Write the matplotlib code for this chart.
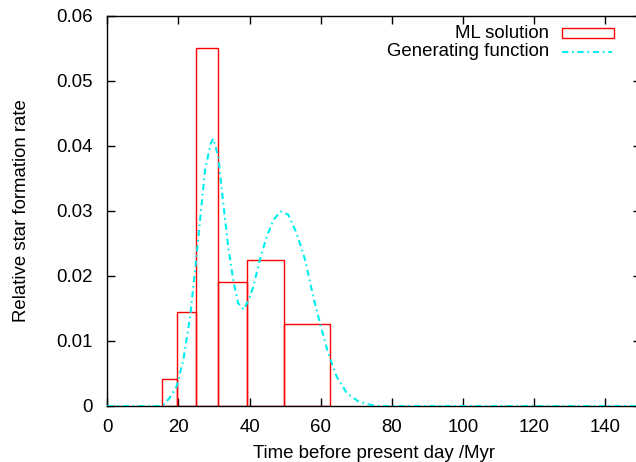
import numpy as np
import matplotlib
matplotlib.use("Agg")
import matplotlib.pyplot as plt
from matplotlib.patches import Rectangle
from matplotlib.lines import Line2D

# ML solution histogram (bin edges in Myr, heights)
bin_edges = [15.5, 19.5, 24.9, 31.2, 39.4, 49.7, 62.7]
ml_heights = [0.0042, 0.0144, 0.0550, 0.0190, 0.0224, 0.0126]

# Generating function
gen_x = [0, 10, 15.0, 15.8, 17.5, 19.5, 21.4, 23.3, 24.7, 26.1, 27.5, 29.1, 29.8,
         31.2, 32.6, 34.0, 35.4, 36.8, 38.4, 40.1, 41.1, 42.9, 44.8, 46.7, 48.7,
         50.9, 53.2, 55.6, 57.9, 59.8, 62.1, 64.5, 67.3, 70.6, 73.8, 76.0, 80, 150]
gen_y = [0, 0, 0, 0.0002, 0.0012, 0.0030, 0.0071, 0.0137, 0.0209, 0.0286, 0.0363, 0.0404, 0.0411,
         0.0384, 0.0312, 0.0245, 0.0194, 0.0158, 0.0148, 0.0168, 0.0184, 0.0225, 0.0260, 0.0286, 0.0299,
         0.0294, 0.0266, 0.0225, 0.0168, 0.0127, 0.0081, 0.0045, 0.0020, 0.0007, 0.0002, 0.0, 0, 0]

x_ticks = [0, 20, 40, 60, 80, 100, 120, 140]
y_ticks = [0, 0.01, 0.02, 0.03, 0.04, 0.05, 0.06]
y_tick_labels = ["0", "0.01", "0.02", "0.03", "0.04", "0.05", "0.06"]

FS = 13.4
plt.rcParams['font.family'] = ['Liberation Sans', 'DejaVu Sans']
plt.rcParams['font.size'] = FS

CYAN = '#00eeee'
DASH = (0, (3, 1.8, 0.8, 1.8))

W, H = 636, 462
fig = plt.figure(figsize=(W / 100, H / 100), dpi=100)
left_px, right_px, top_px, bot_px = 107.2, 641.0, 15.7, 406.0
ax = fig.add_axes([left_px / W, 1 - bot_px / H, (right_px - left_px) / W, (bot_px - top_px) / H])

lefts = bin_edges[:-1]
widths = np.diff(bin_edges)
ax.bar(lefts, ml_heights, width=widths, align='edge', fill=False,
       edgecolor='#ff0000', linewidth=1.0, zorder=2)
ax.plot(gen_x, gen_y, color=CYAN, linestyle=DASH, linewidth=1.5, zorder=3)

ax.set_xlim(0, 150)
ax.set_ylim(0, 0.06)
ax.set_xticks(x_ticks)
ax.set_yticks(y_ticks)
ax.set_yticklabels(y_tick_labels)
ax.tick_params(direction='in', length=6, width=1, top=True, right=True,
               labelsize=FS, color='black')
ax.tick_params(axis='y', pad=10.5)
ax.tick_params(axis='x', pad=9.5)
for s in ax.spines.values():
    s.set_linewidth(1.0)
ax.set_xlabel("Time before present day /Myr", fontsize=FS, labelpad=6.5)
ax.set_ylabel("Relative star formation rate", fontsize=FS, labelpad=19)

def px2fig(x, y):
    return x / W, 1 - y / H

fx, fy = px2fig(549.3, 33.3)
fig.text(fx, fy, "ML solution", ha='right', va='center', fontsize=FS)
x0, y0 = px2fig(561.7, 37.7)
x1, y1 = px2fig(614.3, 28.3)
fig.patches.append(Rectangle((x0, y0), x1 - x0, y1 - y0, transform=fig.transFigure,
                             fill=False, edgecolor='#ff0000', linewidth=1.0))
fx, fy = px2fig(549.3, 51.7)
fig.text(fx, fy, "Generating function", ha='right', va='center', fontsize=FS)
lx0, ly = px2fig(561.7, 51.7)
lx1, _ = px2fig(611.7, 51.7)
fig.lines.append(Line2D([lx0, lx1], [ly, ly], transform=fig.transFigure,
                        color=CYAN, linestyle=DASH, linewidth=1.5))

fig.savefig("out.png", dpi=100)
